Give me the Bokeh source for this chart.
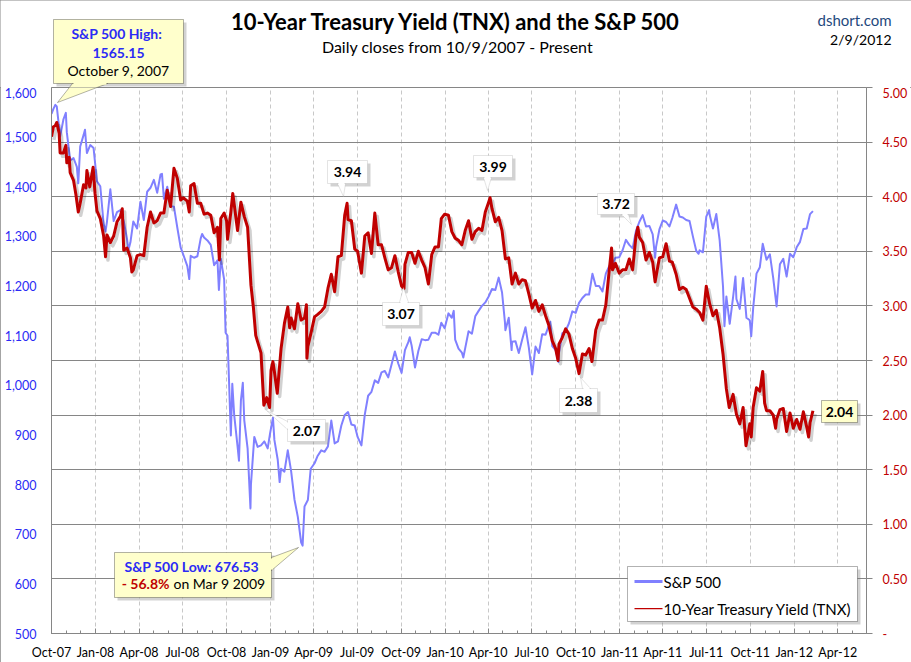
import pandas as pd
from bokeh.plotting import figure
from bokeh.layouts import column
from bokeh.models import (Range1d, LinearAxis, FixedTicker, NumeralTickFormatter,
                          CustomJSTickFormatter, DatetimeTickFormatter, Grid, Label,
                          BoxAnnotation, PolyAnnotation)
from bokeh.embed import file_html
from bokeh.resources import INLINE

# ---------------- data ----------------
spx_dates = [
    "2007-10-01", "2007-10-05", "2007-10-09", "2007-10-12", "2007-10-19", "2007-10-26", "2007-10-31",
    "2007-11-02", "2007-11-09", "2007-11-16", "2007-11-23", "2007-11-26", "2007-11-30", "2007-12-07",
    "2007-12-10", "2007-12-14", "2007-12-21", "2007-12-28",
    "2008-01-04", "2008-01-11", "2008-01-18", "2008-01-22", "2008-01-25", "2008-02-01", "2008-02-08",
    "2008-02-15", "2008-02-22", "2008-02-29", "2008-03-07", "2008-03-10", "2008-03-14", "2008-03-20",
    "2008-03-28", "2008-04-04", "2008-04-11", "2008-04-18", "2008-04-25", "2008-05-02", "2008-05-09",
    "2008-05-16", "2008-05-19", "2008-05-23", "2008-05-30", "2008-06-06", "2008-06-13", "2008-06-20",
    "2008-06-27", "2008-07-03", "2008-07-11", "2008-07-15", "2008-07-18", "2008-07-25", "2008-08-01",
    "2008-08-08", "2008-08-11", "2008-08-15", "2008-08-22", "2008-08-29", "2008-09-05", "2008-09-12",
    "2008-09-15", "2008-09-19", "2008-09-26", "2008-09-29", "2008-10-03", "2008-10-10", "2008-10-13",
    "2008-10-17", "2008-10-24", "2008-10-27", "2008-10-31", "2008-11-04", "2008-11-07", "2008-11-14",
    "2008-11-20", "2008-11-21", "2008-11-28", "2008-12-05", "2008-12-12", "2008-12-19", "2008-12-26",
    "2008-12-31",
    "2009-01-06", "2009-01-09", "2009-01-16", "2009-01-20", "2009-01-23", "2009-01-30", "2009-02-06",
    "2009-02-13", "2009-02-20", "2009-02-27", "2009-03-06", "2009-03-09", "2009-03-13", "2009-03-20",
    "2009-03-26", "2009-04-03", "2009-04-09", "2009-04-17", "2009-04-24", "2009-05-01", "2009-05-08",
    "2009-05-15", "2009-05-22", "2009-05-29", "2009-06-05", "2009-06-12", "2009-06-19", "2009-06-26",
    "2009-07-02", "2009-07-10", "2009-07-17", "2009-07-24", "2009-07-31", "2009-08-07", "2009-08-14",
    "2009-08-21", "2009-08-28", "2009-09-04", "2009-09-11", "2009-09-18", "2009-09-25", "2009-10-02",
    "2009-10-09", "2009-10-16", "2009-10-19", "2009-10-23", "2009-10-30", "2009-11-06", "2009-11-13",
    "2009-11-20", "2009-11-27", "2009-12-04", "2009-12-11", "2009-12-18", "2009-12-24", "2009-12-31",
    "2010-01-08", "2010-01-15", "2010-01-19", "2010-01-22", "2010-01-29", "2010-02-05", "2010-02-08",
    "2010-02-12", "2010-02-19", "2010-02-26", "2010-03-05", "2010-03-12", "2010-03-19", "2010-03-26",
    "2010-04-02", "2010-04-09", "2010-04-16", "2010-04-23", "2010-04-30", "2010-05-06", "2010-05-07",
    "2010-05-14", "2010-05-20", "2010-05-21", "2010-05-28", "2010-06-04", "2010-06-11", "2010-06-18",
    "2010-06-25", "2010-07-02", "2010-07-09", "2010-07-16", "2010-07-23", "2010-07-30", "2010-08-06",
    "2010-08-09", "2010-08-13", "2010-08-20", "2010-08-26", "2010-08-27", "2010-09-03", "2010-09-10",
    "2010-09-17", "2010-09-24", "2010-10-01", "2010-10-08", "2010-10-15", "2010-10-22", "2010-10-29",
    "2010-11-05", "2010-11-12", "2010-11-19", "2010-11-26", "2010-12-03", "2010-12-10", "2010-12-17",
    "2010-12-23", "2010-12-31",
    "2011-01-07", "2011-01-14", "2011-01-21", "2011-01-28", "2011-02-04", "2011-02-11", "2011-02-18",
    "2011-02-25", "2011-03-04", "2011-03-11", "2011-03-16", "2011-03-18", "2011-03-25", "2011-04-01",
    "2011-04-08", "2011-04-15", "2011-04-21", "2011-04-29", "2011-05-06", "2011-05-13", "2011-05-20",
    "2011-05-27", "2011-06-03", "2011-06-10", "2011-06-15", "2011-06-17", "2011-06-24", "2011-07-01",
    "2011-07-07", "2011-07-08", "2011-07-15", "2011-07-22", "2011-07-29", "2011-08-05", "2011-08-08",
    "2011-08-12", "2011-08-19", "2011-08-26", "2011-08-31", "2011-09-02", "2011-09-09", "2011-09-16",
    "2011-09-23", "2011-09-30", "2011-10-03", "2011-10-07", "2011-10-14", "2011-10-21", "2011-10-27",
    "2011-11-04", "2011-11-11", "2011-11-18", "2011-11-25", "2011-12-02", "2011-12-09", "2011-12-16",
    "2011-12-23", "2011-12-30",
    "2012-01-06", "2012-01-13", "2012-01-20", "2012-01-27", "2012-02-03", "2012-02-09",
]
spx_values = [
    1547, 1557, 1565, 1562, 1501, 1536, 1549,
    1510, 1453, 1458, 1440, 1407, 1481, 1504,
    1515, 1468, 1484, 1478,
    1411, 1401, 1325, 1310, 1330, 1395, 1331,
    1349, 1353, 1331, 1294, 1273, 1288, 1330,
    1316, 1370, 1333, 1390, 1398, 1414, 1388,
    1425, 1426, 1376, 1400, 1361, 1360, 1318,
    1278, 1262, 1240, 1214, 1261, 1257, 1260,
    1296, 1305, 1298, 1292, 1283, 1242, 1252,
    1192, 1255, 1213, 1106, 1100, 899, 1003,
    940, 877, 848, 969, 1005, 930, 873,
    752, 800, 896, 876, 879, 887, 873,
    903,
    935, 890, 850, 805, 832, 826, 869,
    827, 770, 735, 683, 677, 756, 769,
    832, 843, 857, 869, 866, 877, 929,
    883, 887, 919, 940, 946, 921, 919,
    896, 879, 941, 979, 987, 1010, 1005,
    1026, 1029, 1016, 1042, 1068, 1044, 1025,
    1071, 1087, 1097, 1080, 1036, 1069, 1093,
    1091, 1092, 1106, 1106, 1102, 1126, 1115,
    1145, 1136, 1150, 1092, 1074, 1066, 1056,
    1075, 1109, 1104, 1139, 1150, 1160, 1167,
    1179, 1194, 1192, 1217, 1187, 1128, 1111,
    1136, 1071, 1088, 1089, 1065, 1092, 1117,
    1076, 1022, 1078, 1065, 1103, 1102, 1121,
    1128, 1079, 1071, 1047, 1065, 1105, 1110,
    1125, 1149, 1146, 1166, 1176, 1183, 1183,
    1225, 1200, 1200, 1189, 1225, 1240, 1244,
    1257, 1258,
    1272, 1293, 1283, 1276, 1311, 1329, 1343,
    1320, 1321, 1304, 1257, 1279, 1314, 1332,
    1329, 1320, 1337, 1364, 1340, 1338, 1333,
    1331, 1300, 1271, 1265, 1272, 1268, 1340,
    1353, 1344, 1316, 1345, 1292, 1199, 1119,
    1179, 1124, 1177, 1219, 1174, 1154, 1216,
    1136, 1131, 1099, 1155, 1225, 1238, 1285,
    1253, 1264, 1216, 1159, 1244, 1255, 1219,
    1265, 1258,
    1278, 1289, 1315, 1316, 1345, 1351,
]

tnx_dates = [
    "2007-10-01", "2007-10-05", "2007-10-09", "2007-10-12", "2007-10-17", "2007-10-19", "2007-10-26",
    "2007-10-31", "2007-11-02", "2007-11-07", "2007-11-09", "2007-11-16", "2007-11-21", "2007-11-26",
    "2007-11-30", "2007-12-07", "2007-12-12", "2007-12-14", "2007-12-20", "2007-12-27", "2007-12-31",
    "2008-01-04", "2008-01-11", "2008-01-18", "2008-01-22", "2008-01-25", "2008-02-01", "2008-02-08",
    "2008-02-15", "2008-02-22", "2008-02-26", "2008-02-29", "2008-03-07", "2008-03-14", "2008-03-17",
    "2008-03-20", "2008-03-28", "2008-04-04", "2008-04-11", "2008-04-18", "2008-04-25", "2008-05-02",
    "2008-05-09", "2008-05-16", "2008-05-23", "2008-05-30", "2008-06-06", "2008-06-13", "2008-06-20",
    "2008-06-27", "2008-07-03", "2008-07-11", "2008-07-15", "2008-07-18", "2008-07-25", "2008-08-01",
    "2008-08-08", "2008-08-15", "2008-08-22", "2008-08-29", "2008-09-05", "2008-09-12", "2008-09-16",
    "2008-09-19", "2008-09-26", "2008-10-01", "2008-10-03", "2008-10-10", "2008-10-14", "2008-10-17",
    "2008-10-24", "2008-10-31", "2008-11-07", "2008-11-14", "2008-11-21", "2008-11-26", "2008-12-01",
    "2008-12-05", "2008-12-12", "2008-12-18", "2008-12-24", "2008-12-30",
    "2009-01-02", "2009-01-06", "2009-01-09", "2009-01-15", "2009-01-23", "2009-01-30", "2009-02-06",
    "2009-02-10", "2009-02-13", "2009-02-20", "2009-02-27", "2009-03-06", "2009-03-13", "2009-03-17",
    "2009-03-18", "2009-03-20", "2009-03-27", "2009-04-03", "2009-04-09", "2009-04-17", "2009-04-24",
    "2009-05-01", "2009-05-08", "2009-05-15", "2009-05-22", "2009-05-29", "2009-06-05", "2009-06-10",
    "2009-06-12", "2009-06-19", "2009-06-26", "2009-07-02", "2009-07-10", "2009-07-17", "2009-07-24",
    "2009-07-31", "2009-08-07", "2009-08-14", "2009-08-21", "2009-08-28", "2009-09-04", "2009-09-11",
    "2009-09-18", "2009-09-25", "2009-10-02", "2009-10-07", "2009-10-09", "2009-10-16", "2009-10-23",
    "2009-10-30", "2009-11-06", "2009-11-13", "2009-11-20", "2009-11-27", "2009-12-04", "2009-12-11",
    "2009-12-18", "2009-12-24", "2009-12-31",
    "2010-01-08", "2010-01-15", "2010-01-22", "2010-01-29", "2010-02-05", "2010-02-12", "2010-02-19",
    "2010-02-26", "2010-03-05", "2010-03-12", "2010-03-19", "2010-03-26", "2010-04-02", "2010-04-05",
    "2010-04-09", "2010-04-16", "2010-04-23", "2010-04-30", "2010-05-07", "2010-05-14", "2010-05-21",
    "2010-05-28", "2010-06-04", "2010-06-11", "2010-06-18", "2010-06-25", "2010-07-02", "2010-07-09",
    "2010-07-16", "2010-07-23", "2010-07-30", "2010-08-06", "2010-08-13", "2010-08-20", "2010-08-25",
    "2010-08-27", "2010-09-03", "2010-09-10", "2010-09-17", "2010-09-24", "2010-10-01", "2010-10-08",
    "2010-10-15", "2010-10-22", "2010-10-29", "2010-11-04", "2010-11-12", "2010-11-19", "2010-11-26",
    "2010-12-03", "2010-12-10", "2010-12-15", "2010-12-17", "2010-12-23", "2010-12-31",
    "2011-01-07", "2011-01-14", "2011-01-21", "2011-01-28", "2011-02-04", "2011-02-08", "2011-02-11",
    "2011-02-18", "2011-02-25", "2011-03-04", "2011-03-11", "2011-03-16", "2011-03-18", "2011-03-25",
    "2011-04-01", "2011-04-08", "2011-04-15", "2011-04-21", "2011-04-29", "2011-05-06", "2011-05-13",
    "2011-05-20", "2011-05-27", "2011-06-03", "2011-06-10", "2011-06-17", "2011-06-24", "2011-07-01",
    "2011-07-08", "2011-07-15", "2011-07-22", "2011-07-29", "2011-08-05", "2011-08-12", "2011-08-18",
    "2011-08-26", "2011-09-02", "2011-09-09", "2011-09-16", "2011-09-22", "2011-09-30", "2011-10-03",
    "2011-10-07", "2011-10-14", "2011-10-21", "2011-10-27", "2011-10-31", "2011-11-04", "2011-11-11",
    "2011-11-18", "2011-11-23", "2011-11-25", "2011-12-02", "2011-12-09", "2011-12-16", "2011-12-23",
    "2011-12-30",
    "2012-01-06", "2012-01-13", "2012-01-20", "2012-01-27", "2012-01-31", "2012-02-03", "2012-02-09",
]
tnx_values = [
    4.55, 4.64, 4.65, 4.68, 4.58, 4.40, 4.40,
    4.47, 4.31, 4.36, 4.22, 4.15, 4.02, 3.86,
    3.94, 4.11, 4.08, 4.24, 4.09, 4.27, 4.03,
    3.87, 3.80, 3.64, 3.45, 3.65, 3.58, 3.64,
    3.77, 3.82, 3.89, 3.51, 3.53, 3.44, 3.31,
    3.33, 3.46, 3.47, 3.46, 3.72, 3.86, 3.76,
    3.78, 3.85, 3.85, 4.06, 3.91, 4.26, 4.17,
    3.97, 3.99, 3.96, 3.86, 4.10, 4.12, 3.94,
    3.94, 3.84, 3.85, 3.83, 3.67, 3.72, 3.42,
    3.80, 3.85, 3.78, 3.61, 3.86, 4.03, 3.93,
    3.69, 3.95, 3.82, 3.72, 3.19, 2.99, 2.73,
    2.67, 2.57, 2.09, 2.16, 2.07,
    2.41, 2.49, 2.40, 2.20, 2.61, 2.84, 2.99,
    2.80, 2.89, 2.79, 3.02, 2.87, 2.89, 3.01,
    2.52, 2.63, 2.76, 2.90, 2.92, 2.95, 2.99,
    3.16, 3.29, 3.13, 3.45, 3.46, 3.83, 3.94,
    3.79, 3.78, 3.52, 3.50, 3.30, 3.64, 3.67,
    3.48, 3.85, 3.56, 3.56, 3.44, 3.33, 3.35,
    3.46, 3.31, 3.18, 3.16, 3.38, 3.49, 3.49,
    3.39, 3.50, 3.42, 3.35, 3.20, 3.47, 3.54,
    3.54, 3.80, 3.84,
    3.83, 3.68, 3.62, 3.60, 3.56, 3.69, 3.78,
    3.61, 3.68, 3.71, 3.69, 3.86, 3.95, 3.99,
    3.89, 3.77, 3.81, 3.69, 3.43, 3.44, 3.20,
    3.30, 3.20, 3.24, 3.23, 3.11, 2.98, 3.05,
    2.95, 3.01, 2.91, 2.82, 2.68, 2.61, 2.50,
    2.65, 2.71, 2.79, 2.74, 2.61, 2.52, 2.38,
    2.56, 2.55, 2.61, 2.49, 2.78, 2.87, 2.87,
    3.01, 3.32, 3.53, 3.33, 3.39, 3.30,
    3.33, 3.33, 3.43, 3.33, 3.64, 3.72, 3.63,
    3.58, 3.42, 3.49, 3.40, 3.22, 3.27, 3.44,
    3.45, 3.57, 3.41, 3.40, 3.29, 3.15, 3.17,
    3.15, 3.07, 2.99, 2.97, 2.94, 2.87, 3.18,
    3.02, 2.91, 2.96, 2.80, 2.56, 2.24, 2.07,
    2.19, 2.01, 1.92, 2.07, 1.72, 1.92, 1.80,
    2.07, 2.25, 2.22, 2.40, 2.11, 2.04, 2.04,
    2.00, 1.88, 1.96, 2.05, 2.06, 1.85, 2.02,
    1.88,
    1.96, 1.87, 2.03, 1.89, 1.80, 1.93, 2.04,
]

spx_ticks = list(range(500, 1700, 100))
tnx_ticks = [0, 0.5, 1.0, 1.5, 2.0, 2.5, 3.0, 3.5, 4.0, 4.5, 5.0]
x_start, x_end = "2007-10-01", "2012-05-31"

FONT = "Lato"
BLUE_TXT = "#2B2BF5"
RED = "#C00000"
YEL = "#FFFFCC"
GRY = "#A6A6A6"
AX = "#868686"

W = 911
TOP_H = 87            # header strip above the plot frame
MAIN_H = 662 - TOP_H  # main chart
FX, FY = 51, 633      # frame bottom-left in page pixels
FR = 866              # frame right edge in page pixels

# ---------------- header strip (title, source, high callout) ----------------
top = figure(width=W, height=TOP_H, x_range=Range1d(0, W), y_range=Range1d(TOP_H, 0),
             output_backend="svg", toolbar_location=None,
             x_axis_location=None, y_axis_location=None,
             min_border_left=0, min_border_right=0, min_border_top=0, min_border_bottom=0)
top.grid.visible = False
top.outline_line_color = None
top.background_fill_color = "white"
top.border_fill_color = "white"


def t_text(X, Y, s, size="14px", color="#000000", style="normal", align="center"):
    top.add_layout(Label(x=X, y=Y, text=s, text_font=FONT, text_font_size=size,
                         text_color=color, text_font_style=style, text_align=align,
                         text_baseline="middle"))


def t_box(x0, y0, x1, y1, fill, line, shadow=True):
    if shadow:
        top.add_layout(BoxAnnotation(left=x0 + 3, right=x1 + 3, top=y0 + 3, bottom=y1 + 3,
                                     fill_color="#7F7F7F", fill_alpha=0.35, line_alpha=0))
    top.add_layout(BoxAnnotation(left=x0, right=x1, top=y0, bottom=y1,
                                 fill_color=fill, fill_alpha=1, line_color=line, line_width=1))


t_text(456, 20.5, "10-Year Treasury Yield (TNX) and the S&P 500", size="22px", style="bold")
t_text(457, 46, "Daily closes from 10/9/2007 - Present", size="16px")
t_text(891, 19.5, "dshort.com", size="15px", color="#1F497D", align="right")
t_text(891, 38.5, "2/9/2012", size="14px", align="right")

HIGH_BOX = (53, 19, 183, 83)
HIGH_PTR = [(72, 83), (57, 102), (107, 83)]
t_box(*HIGH_BOX, YEL, "#000000")
top.add_layout(PolyAnnotation(xs=[a for a, b in HIGH_PTR], ys=[b for a, b in HIGH_PTR],
                              fill_color=YEL, fill_alpha=1, line_color="#000000", line_width=1))
top.add_layout(BoxAnnotation(left=73, right=106, top=81.5, bottom=84.2,
                             fill_color=YEL, fill_alpha=1, line_alpha=0))
t_text(118, 33, "S&P 500  High:", color=BLUE_TXT, style="bold")
t_text(118, 52, "1565.15", color=BLUE_TXT, style="bold")
t_text(118, 70, "October 9, 2007")

# ---------------- main chart ----------------
spx_x = pd.to_datetime(spx_dates)
tnx_x = pd.to_datetime(tnx_dates)

p = figure(width=W, height=MAIN_H, x_axis_type="datetime",
           x_range=Range1d(pd.Timestamp(x_start), pd.Timestamp(x_end)),
           y_range=Range1d(spx_ticks[0], spx_ticks[-1]),
           output_backend="svg", toolbar_location=None,
           min_border_left=FX, min_border_right=W - FR, min_border_top=0,
           min_border_bottom=662 - FY)
p.extra_y_ranges = {"tnx": Range1d(tnx_ticks[0], tnx_ticks[-1])}
p.outline_line_color = AX
p.background_fill_color = "white"
p.border_fill_color = "white"

# the header strip must keep its full-width frame (no frame alignment with the chart)
for fig in (top, p):
    try:
        fig.frame_align = False
    except AttributeError:
        pass

quarters = pd.date_range(x_start, "2012-04-01", freq="QS-OCT")
months = pd.date_range(x_start, x_end, freq="MS")
q_ms = [t.value / 1e6 for t in quarters]
m_ms = [t.value / 1e6 for t in months]

xa = p.xaxis[0]
xa.ticker = FixedTicker(ticks=q_ms, minor_ticks=m_ms)
fmt = "%b-%y"
xa.formatter = DatetimeTickFormatter(days=fmt, months=fmt, years=fmt, hours=fmt,
                                     minutes=fmt, seconds=fmt, milliseconds=fmt, microseconds=fmt,
                                     minsec=fmt, hourmin=fmt)
xa.axis_line_color = AX
xa.major_tick_line_color = AX
xa.minor_tick_line_color = AX
xa.major_tick_in = 5
xa.major_tick_out = 0
xa.minor_tick_in = 3
xa.minor_tick_out = 0
xa.major_label_standoff = 11
xa.major_label_text_font = FONT
xa.major_label_text_font_size = "12.5px"
xa.major_label_text_color = "#000000"

ya = p.yaxis[0]
ya.ticker = FixedTicker(ticks=spx_ticks)
ya.formatter = NumeralTickFormatter(format="0,0")
ya.axis_line_color = AX
ya.major_tick_line_color = None
ya.major_tick_out = 0
ya.major_tick_in = 0
ya.minor_tick_line_color = None
ya.major_label_standoff = 15
ya.major_label_text_font = FONT
ya.major_label_text_font_size = "12.5px"
ya.major_label_text_color = BLUE_TXT

ra = LinearAxis(y_range_name="tnx", ticker=FixedTicker(ticks=tnx_ticks),
                formatter=CustomJSTickFormatter(code="return tick == 0 ? '-' : tick.toFixed(2);"))
ra.axis_line_color = AX
ra.major_tick_line_color = AX
ra.major_tick_out = 6
ra.major_tick_in = 0
ra.minor_tick_line_color = None
ra.major_label_standoff = 10
ra.major_label_text_font = FONT
ra.major_label_text_font_size = "12.5px"
ra.major_label_text_color = RED
p.add_layout(ra, "right")

p.ygrid.visible = False
p.add_layout(Grid(dimension=1, ticker=FixedTicker(ticks=tnx_ticks), y_range_name="tnx",
                  grid_line_color=AX, grid_line_width=1))
p.xgrid.ticker = FixedTicker(ticks=q_ms)
p.xgrid.grid_line_color = "#C8C8C8"
p.xgrid.grid_line_dash = "4 3"

# lines
p.line(spx_x, spx_values, line_color="#8080FF", line_width=2, line_join="round")
shadow_x = tnx_x + pd.Timedelta(days=5)
shadow_y = [v - 0.03 for v in tnx_values]
p.line(shadow_x, shadow_y, y_range_name="tnx", line_color="#000000", line_alpha=0.18,
       line_width=3.5, line_join="round")
p.line(tnx_x, tnx_values, y_range_name="tnx", line_color=RED, line_width=3, line_join="round")


# annotations inside the frame: screen pixels relative to the frame's bottom-left
def sx(X):
    return X - FX


def sy(Y):
    return FY - Y


SCR = dict(left_units="screen", right_units="screen", top_units="screen", bottom_units="screen")


def box(x0, y0, x1, y1, fill, line, shadow=True):
    if shadow:
        p.add_layout(BoxAnnotation(left=sx(x0 + 3), right=sx(x1 + 3), top=sy(y0 + 3), bottom=sy(y1 + 3),
                                   fill_color="#7F7F7F", fill_alpha=0.35, line_alpha=0, **SCR))
    p.add_layout(BoxAnnotation(left=sx(x0), right=sx(x1), top=sy(y0), bottom=sy(y1),
                               fill_color=fill, fill_alpha=1, line_color=line, line_width=1, **SCR))


def pointer(pts, fill, line, gap=None):
    p.add_layout(PolyAnnotation(xs=[sx(a) for a, b in pts], ys=[sy(b) for a, b in pts],
                                xs_units="screen", ys_units="screen",
                                fill_color=fill, fill_alpha=1, line_color=line, line_width=1))
    if gap:
        x0, y0, x1, y1 = gap
        p.add_layout(BoxAnnotation(left=sx(x0), right=sx(x1), top=sy(y0), bottom=sy(y1),
                                   fill_color=fill, fill_alpha=1, line_alpha=0, **SCR))


def text(X, Y, s, size="14px", color="#000000", style="normal", align="center"):
    p.add_layout(Label(x=sx(X), y=sy(Y), x_units="screen", y_units="screen", text=s,
                       text_font=FONT, text_font_size=size, text_color=color,
                       text_font_style=style, text_align=align, text_baseline="middle"))


# lower part of the high-callout pointer (the part that falls inside the frame)
pointer(HIGH_PTR, YEL, "#000000")

# S&P low callout
box(114, 552, 271, 597, YEL, "#000000")
pointer([(271, 557), (298, 547), (271, 570)], YEL, "#000000", gap=(269.5, 558, 272.5, 569))
text(193, 566, "S&P 500  Low: 676.53", color=BLUE_TXT, style="bold")
text(169, 583, "- 56.8%", color=RED, style="bold", align="right")
text(173, 583, "on Mar 9 2009", align="left")

# yield callouts
callouts = [
    ((327, 160, 367, 183), [(337, 183), (343, 196), (345, 183)], (338, 182, 344, 184.5), "3.94"),
    ((473, 155, 512, 177), [(483, 177), (487, 190), (491, 177)], (484, 176, 490, 178.5), "3.99"),
    ((597, 193, 634, 214), [(621, 214), (631, 224), (628, 214)], (622, 213, 627, 215.5), "3.72"),
    ((382, 302, 419, 325), [(399, 302), (403, 287), (408, 302)], (400, 300.5, 407, 303), "3.07"),
    ((559, 388, 597, 412), [(582, 388), (580, 377), (590, 388)], (583, 386.5, 589, 389), "2.38"),
    ((287, 419, 325, 441), [(287, 421), (266, 410), (287, 429)], (285.5, 422, 288.5, 428), "2.07"),
]
for (x0, y0, x1, y1), pts, gap, s in callouts:
    box(x0, y0, x1, y1, "#FFFFFF", GRY)
    pointer(pts, "#FFFFFF", GRY, gap=gap)
    text((x0 + x1) / 2, (y0 + y1) / 2, s, style="bold")

# last value box
box(821, 400, 857, 422, YEL, "#000000")
text(839, 411, "2.04", style="bold")

# legend
box(627, 566, 857, 621, "#FFFFFF", "#000000")
p.add_layout(BoxAnnotation(left=sx(634), right=sx(662), top=sy(579.5), bottom=sy(582.5),
                           fill_color="#8080FF", fill_alpha=1, line_alpha=0, **SCR))
p.add_layout(BoxAnnotation(left=sx(634), right=sx(662), top=sy(607.5), bottom=sy(608.8),
                           fill_color=RED, fill_alpha=1, line_alpha=0, **SCR))
text(663, 581, "S&P 500", size="15px", align="left")
text(663, 608, "10-Year Treasury Yield (TNX)", size="15px", align="left")

layout = column(top, p, spacing=0,
                styles={"outline": "1px solid #868686", "outline-offset": "-1px"})
open("out.html", "w").write(file_html(layout, INLINE))
